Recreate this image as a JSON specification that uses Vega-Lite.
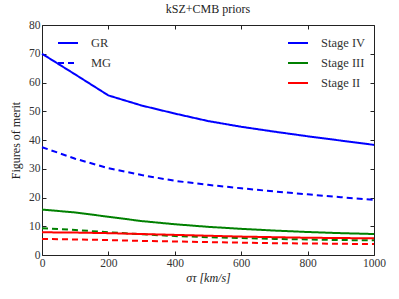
{
  "$schema": "https://vega.github.io/schema/vega-lite/v6.json",
  "width": 332,
  "height": 230,
  "autosize": {"type": "none"},
  "padding": {"left": 42, "top": 25, "right": 25, "bottom": 44},
  "background": "white",
  "title": {"text": "kSZ+CMB priors", "font": "'Liberation Serif', 'Times New Roman', serif", "fontSize": 12, "fontWeight": "normal", "color": "#222", "offset": 3},
  "config": {
    "view": {"stroke": "#222", "strokeWidth": 1},
    "axis": {"labelFont": "'Liberation Serif', 'Times New Roman', serif", "labelFontSize": 11.5, "labelColor": "#333", "titleFont": "'Liberation Serif', 'Times New Roman', serif", "titleFontSize": 12, "titleFontWeight": "normal", "titleColor": "#222", "grid": false, "domain": false, "tickColor": "#222", "tickSize": -4, "tickWidth": 1, "labelFlush": false},
    "legend": {"labelFont": "'Liberation Serif', 'Times New Roman', serif", "labelFontSize": 12.5, "labelColor": "#333", "symbolType": "stroke", "symbolSize": 400, "symbolStrokeWidth": 2, "title": null, "labelOffset": 12, "rowPadding": 2}
  },
  "data": {"values": [
    {"x": 0, "v": 70, "stage": "Stage IV", "model": "GR"},
    {"x": 100, "v": 62.8, "stage": "Stage IV", "model": "GR"},
    {"x": 200, "v": 55.5, "stage": "Stage IV", "model": "GR"},
    {"x": 300, "v": 52, "stage": "Stage IV", "model": "GR"},
    {"x": 400, "v": 49.2, "stage": "Stage IV", "model": "GR"},
    {"x": 500, "v": 46.6, "stage": "Stage IV", "model": "GR"},
    {"x": 600, "v": 44.6, "stage": "Stage IV", "model": "GR"},
    {"x": 700, "v": 42.9, "stage": "Stage IV", "model": "GR"},
    {"x": 800, "v": 41.3, "stage": "Stage IV", "model": "GR"},
    {"x": 900, "v": 39.8, "stage": "Stage IV", "model": "GR"},
    {"x": 1000, "v": 38.3, "stage": "Stage IV", "model": "GR"},
    {"x": 0, "v": 37.5, "stage": "Stage IV", "model": "MG"},
    {"x": 100, "v": 33.5, "stage": "Stage IV", "model": "MG"},
    {"x": 200, "v": 30.2, "stage": "Stage IV", "model": "MG"},
    {"x": 300, "v": 27.8, "stage": "Stage IV", "model": "MG"},
    {"x": 400, "v": 25.8, "stage": "Stage IV", "model": "MG"},
    {"x": 500, "v": 24.4, "stage": "Stage IV", "model": "MG"},
    {"x": 600, "v": 23.2, "stage": "Stage IV", "model": "MG"},
    {"x": 700, "v": 22.1, "stage": "Stage IV", "model": "MG"},
    {"x": 800, "v": 21.1, "stage": "Stage IV", "model": "MG"},
    {"x": 900, "v": 20.1, "stage": "Stage IV", "model": "MG"},
    {"x": 1000, "v": 19.2, "stage": "Stage IV", "model": "MG"},
    {"x": 0, "v": 15.8, "stage": "Stage III", "model": "GR"},
    {"x": 100, "v": 14.8, "stage": "Stage III", "model": "GR"},
    {"x": 200, "v": 13.3, "stage": "Stage III", "model": "GR"},
    {"x": 300, "v": 11.8, "stage": "Stage III", "model": "GR"},
    {"x": 400, "v": 10.7, "stage": "Stage III", "model": "GR"},
    {"x": 500, "v": 9.8, "stage": "Stage III", "model": "GR"},
    {"x": 600, "v": 9.1, "stage": "Stage III", "model": "GR"},
    {"x": 700, "v": 8.5, "stage": "Stage III", "model": "GR"},
    {"x": 800, "v": 8.0, "stage": "Stage III", "model": "GR"},
    {"x": 900, "v": 7.6, "stage": "Stage III", "model": "GR"},
    {"x": 1000, "v": 7.3, "stage": "Stage III", "model": "GR"},
    {"x": 0, "v": 9.3, "stage": "Stage III", "model": "MG"},
    {"x": 100, "v": 8.7, "stage": "Stage III", "model": "MG"},
    {"x": 200, "v": 7.9, "stage": "Stage III", "model": "MG"},
    {"x": 300, "v": 7.2, "stage": "Stage III", "model": "MG"},
    {"x": 400, "v": 6.6, "stage": "Stage III", "model": "MG"},
    {"x": 500, "v": 6.2, "stage": "Stage III", "model": "MG"},
    {"x": 600, "v": 5.9, "stage": "Stage III", "model": "MG"},
    {"x": 700, "v": 5.6, "stage": "Stage III", "model": "MG"},
    {"x": 800, "v": 5.4, "stage": "Stage III", "model": "MG"},
    {"x": 900, "v": 5.2, "stage": "Stage III", "model": "MG"},
    {"x": 1000, "v": 5.1, "stage": "Stage III", "model": "MG"},
    {"x": 0, "v": 7.9, "stage": "Stage II", "model": "GR"},
    {"x": 100, "v": 7.8, "stage": "Stage II", "model": "GR"},
    {"x": 200, "v": 7.6, "stage": "Stage II", "model": "GR"},
    {"x": 300, "v": 7.3, "stage": "Stage II", "model": "GR"},
    {"x": 400, "v": 7.0, "stage": "Stage II", "model": "GR"},
    {"x": 500, "v": 6.7, "stage": "Stage II", "model": "GR"},
    {"x": 600, "v": 6.4, "stage": "Stage II", "model": "GR"},
    {"x": 700, "v": 6.2, "stage": "Stage II", "model": "GR"},
    {"x": 800, "v": 6.0, "stage": "Stage II", "model": "GR"},
    {"x": 900, "v": 5.9, "stage": "Stage II", "model": "GR"},
    {"x": 1000, "v": 5.8, "stage": "Stage II", "model": "GR"},
    {"x": 0, "v": 5.6, "stage": "Stage II", "model": "MG"},
    {"x": 100, "v": 5.4, "stage": "Stage II", "model": "MG"},
    {"x": 200, "v": 5.2, "stage": "Stage II", "model": "MG"},
    {"x": 300, "v": 4.9, "stage": "Stage II", "model": "MG"},
    {"x": 400, "v": 4.7, "stage": "Stage II", "model": "MG"},
    {"x": 500, "v": 4.5, "stage": "Stage II", "model": "MG"},
    {"x": 600, "v": 4.3, "stage": "Stage II", "model": "MG"},
    {"x": 700, "v": 4.1, "stage": "Stage II", "model": "MG"},
    {"x": 800, "v": 4.0, "stage": "Stage II", "model": "MG"},
    {"x": 900, "v": 3.9, "stage": "Stage II", "model": "MG"},
    {"x": 1000, "v": 3.8, "stage": "Stage II", "model": "MG"}
  ]},
  "layer": [
    {
      "mark": {"type": "line", "strokeWidth": 2},
      "encoding": {
        "x": {"field": "x", "type": "quantitative", "scale": {"domain": [0, 1000], "nice": false}, "axis": {"values": [0, 200, 400, 600, 800, 1000], "format": "d", "title": "στ [km/s]", "titleFontStyle": "italic", "labelPadding": 6, "titlePadding": 4}},
        "y": {"field": "v", "type": "quantitative", "scale": {"domain": [0, 80], "nice": false}, "axis": {"values": [0, 10, 20, 30, 40, 50, 60, 70, 80], "title": "Figures of merit", "labelPadding": 6, "titlePadding": 6}},
        "color": {"field": "stage", "type": "nominal", "scale": {"domain": ["Stage IV", "Stage III", "Stage II"], "range": ["#0000ff", "#008000", "#ff0000"]}, "legend": {"orient": "none", "legendX": 245, "legendY": 7}},
        "strokeDash": {"field": "model", "type": "nominal", "scale": {"domain": ["GR", "MG"], "range": [[1, 0], [6, 4]]}, "legend": {"orient": "none", "legendX": 15, "legendY": 7, "symbolStrokeColor": "#0000ff"}},
        "detail": {"field": "model"}
      }
    },
    {
      "mark": {"type": "line", "opacity": 0},
      "encoding": {
        "x": {"field": "x", "type": "quantitative", "axis": {"orient": "top", "values": [0, 200, 400, 600, 800, 1000], "labels": false, "title": null}},
        "y": {"field": "v", "type": "quantitative", "axis": {"orient": "right", "values": [0, 10, 20, 30, 40, 50, 60, 70, 80], "labels": false, "title": null}}
      }
    }
  ],
  "resolve": {"axis": {"x": "independent", "y": "independent"}}
}
